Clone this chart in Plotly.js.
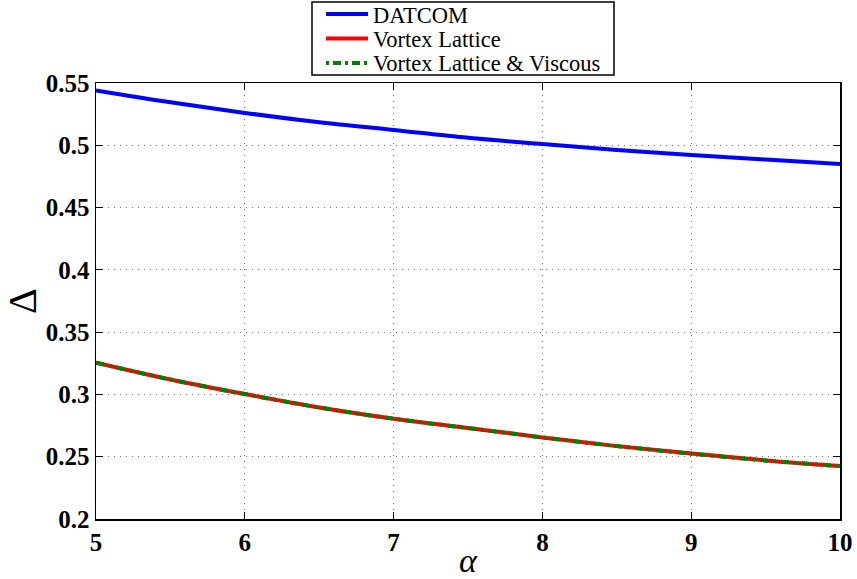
<!DOCTYPE html>
<html>
<head>
<meta charset="utf-8">
<script src="https://cdn.plot.ly/plotly-3.0.1.min.js"></script>
<style>
  html, body { margin: 0; padding: 0; background: #fff; }
  #chart { width: 857px; height: 579px; }
</style>
</head>
<body>
<div id="chart"></div>
<script>
// Angle of attack samples
const alpha = [5, 5.5, 6, 6.5, 7, 7.5, 8, 8.5, 9, 9.5, 10];
// Delta estimates by method
const datcom = [0.544, 0.5345, 0.526, 0.5185, 0.5123, 0.506, 0.501, 0.4963, 0.4922, 0.4885, 0.485];
const vortexLattice = [0.3255, 0.312, 0.3003, 0.2895, 0.2805, 0.273, 0.2655, 0.2585, 0.2525, 0.247, 0.2425];
const vortexViscous = [0.3255, 0.312, 0.3003, 0.2895, 0.2805, 0.273, 0.2655, 0.2585, 0.2525, 0.247, 0.2425];

const seriesNames = ['DATCOM', 'Vortex Lattice', 'Vortex Lattice &amp; Viscous'];
const xTicks = [5, 6, 7, 8, 9, 10];
const yTicks = [0.2, 0.25, 0.3, 0.35, 0.4, 0.45, 0.5, 0.55];
const yTickText = ['0.2', '0.25', '0.3', '0.35', '0.4', '0.45', '0.5', '0.55'];

const serif = '"Liberation Serif", "Times New Roman", Times, serif';
const W = 857, H = 579;
const M = { l: 96, r: 17, t: 83, b: 60 };

const styles = [
  { color: '#0000ff', width: 4, shape: 'spline' },
  { color: '#ff0000', width: 4, shape: 'spline' },
  { color: '#008000', width: 4, shape: 'spline', dash: '8px,5px,3px,5px' }
];
const seriesY = [datcom, vortexLattice, vortexViscous];

const traces = seriesY.map((ys, i) => ({
  x: alpha, y: ys, name: seriesNames[i], mode: 'lines', line: styles[i]
}));

// Pixel -> paper helpers for the legend block above the plot
const plotW = W - M.l - M.r, plotH = H - M.t - M.b;
const px = v => (v - M.l) / plotW;
const py = v => (H - M.b - v) / plotH;

const legendRows = [14, 38.5, 63];
const boxL = 312, boxR = 614;
const shapes = [{
  type: 'rect', xref: 'paper', yref: 'paper',
  x0: px(boxL), x1: px(boxR), y0: py(75), y1: py(2),
  line: { color: '#000', width: 1.5 }, fillcolor: '#fff', layer: 'below'
}];
const annotations = [];
legendRows.forEach((row, i) => {
  shapes.push({
    type: 'line', xref: 'paper', yref: 'paper',
    x0: px(boxL + 14), x1: px(boxL + 56), y0: py(row), y1: py(row),
    line: { color: styles[i].color, width: 4, dash: styles[i].dash ? '3px,4px,8px,4px' : 'solid' }
  });
  annotations.push({
    xref: 'paper', yref: 'paper', x: px(boxL + 60), y: py(row + 1),
    xanchor: 'left', yanchor: 'middle', showarrow: false, borderpad: 0,
    text: seriesNames[i],
    font: { family: serif, size: 22.5, color: '#000' }
  });
});

const axisCommon = {
  showline: true, linecolor: '#000', linewidth: 1.5, mirror: 'ticks',
  ticks: 'inside', ticklen: 7, tickwidth: 1.2, tickcolor: '#000',
  showgrid: true, gridcolor: '#777', griddash: '1px,5px', gridwidth: 1,
  zeroline: false,
  tickfont: { family: serif, size: 25, color: '#000', weight: 'bold' }
};

const layout = {
  width: W, height: H,
  margin: M,
  font: { family: serif, color: '#000' },
  paper_bgcolor: '#fff', plot_bgcolor: '#fff',
  showlegend: false,
  shapes: shapes,
  annotations: annotations,
  xaxis: Object.assign({}, axisCommon, {
    range: [5, 10], tickvals: xTicks, ticktext: xTicks.map(String),
    title: { text: '<i>α</i>', font: { family: serif, size: 34, color: '#000' }, standoff: 0 }
  }),
  yaxis: Object.assign({}, axisCommon, {
    range: [0.2, 0.55], tickvals: yTicks, ticktext: yTickText,
    title: { text: 'Δ', font: { family: serif, size: 40, color: '#000' }, standoff: 4 }
  })
};

Plotly.newPlot('chart', traces, layout, { displayModeBar: false, staticPlot: true });
</script>
</body>
</html>
